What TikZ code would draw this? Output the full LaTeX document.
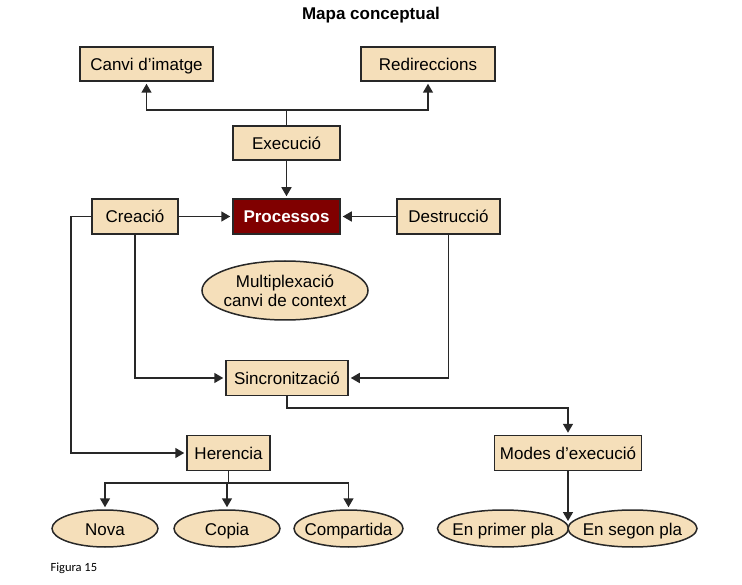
\documentclass[tikz,border=0pt]{standalone}
\usepackage{fontspec}
\setmainfont{Liberation Sans}
\newfontfamily\figfont{Carlito}
\usepackage{xcolor}
\usepackage{tikz}
\usetikzlibrary{positioning, shapes.geometric, arrows.meta}
\definecolor{beix}{RGB}{245,223,186}
\definecolor{granat}{RGB}{128,0,0}
\definecolor{linia}{RGB}{40,40,40}
\begin{document}
\begin{tikzpicture}[x=1pt,y=-1pt]
	\tikzstyle{caixa}=[rectangle,draw=linia,line width=1.5pt,fill=beix,inner sep=0pt,minimum height=34pt,text height=14.5pt,text depth=1.5pt,font=\fontsize{17}{20}\selectfont]
	\tikzstyle{oval}=[ellipse,draw=linia,line width=1.5pt,fill=beix,inner xsep=-8pt,inner ysep=-3pt,font=\fontsize{17}{20}\selectfont,align=center]
	\tikzstyle{ovalet}=[oval,minimum height=37pt,text height=14.5pt,text depth=1.5pt]
	\tikzstyle{fletxa}=[draw=linia,line width=1.6pt,-{Triangle[length=9pt,width=10pt]},shorten >=2pt]
	\useasboundingbox (0,0) rectangle (742,585);
	\node[font=\fontsize{17}{20}\selectfont\bfseries](titol) at (371,15) {Mapa conceptual};
	% caixes
	\node[caixa,minimum width=133pt](canvi) at (146.5,64) {Canvi d’imatge};
	\node[caixa,minimum width=134pt](redir) at (428,64) {Redireccions};
	\node[caixa,minimum width=107pt](exec) at (286.5,143) {Execució};
	\node[caixa,minimum width=107pt,minimum height=35pt,fill=granat,text=white,font=\fontsize{17}{20}\selectfont\bfseries](proc) at (286.5,216.5) {Processos};
	\node[caixa,minimum width=86pt,minimum height=35pt](creacio) at (135,216.5) {Creació};
	\node[caixa,minimum width=103pt,minimum height=35pt](destr) at (448.5,216.5) {Destrucció};
	\node[oval,minimum width=166pt,minimum height=59pt](multi) at (285,290.5) {Multiplexació\\[-1pt]canvi de context};
	\node[caixa,minimum width=122pt,minimum height=35pt](sinc) at (287,378) {Sincronització};
	\node[caixa,minimum width=83pt,minimum height=35pt](heren) at (228.5,453) {Herencia};
	\node[caixa,minimum width=147pt,minimum height=35pt](modes) at (568,453) {Modes d’execució};
	% ovals
	\node[ovalet,minimum width=106pt](nova) at (105,528.5) {Nova};
	\node[ovalet,minimum width=106pt](copia) at (227,528.5) {Copia};
	\node[ovalet,minimum width=109pt](compart) at (348.5,528.5) {Compartida};
	\node[ovalet,minimum width=131pt](primer) at (503,528.5) {En primer pla};
	\node[ovalet,minimum width=129pt](segon) at (632.5,528.5) {En segon pla};
	\node[font=\figfont\fontsize{12.5}{14}\selectfont,anchor=west](figura) at (47,568) {Figura 15};
	\coordinate (branca) at (286.5,110);
	\coordinate (esquerra) at (71,216.5);
	\coordinate (baix) at (287,408);
	\coordinate (repart) at (228.5,483);
	\coordinate (unio) at (568,521);
	% connexions
	\draw[draw=linia,line width=1.6pt] (exec.north) -- (branca);
	\draw[fletxa] (branca) -| (canvi.south);
	\draw[fletxa] (branca) -| (redir.south);
	\draw[fletxa] (exec.south) -- (proc.north);
	\draw[fletxa] (creacio.east) -- (proc.west);
	\draw[fletxa] (destr.west) -- (proc.east);
	\draw[fletxa] (creacio.south) |- (sinc.west);
	\draw[fletxa] (destr.south) |- (sinc.east);
	\draw[fletxa] (creacio.west) -- (esquerra) |- (heren.west);
	\draw[fletxa] (sinc.south) -- (baix) -| (modes.north);
	\draw[draw=linia,line width=1.6pt] (heren.south) -- (repart);
	\draw[fletxa] (repart) -| (nova.north);
	\draw[fletxa] (repart) -| (copia.north);
	\draw[fletxa] (repart) -| (compart.north);
	\draw[fletxa,shorten >=0pt] (modes.south) -- (unio);
\end{tikzpicture}
\end{document}
